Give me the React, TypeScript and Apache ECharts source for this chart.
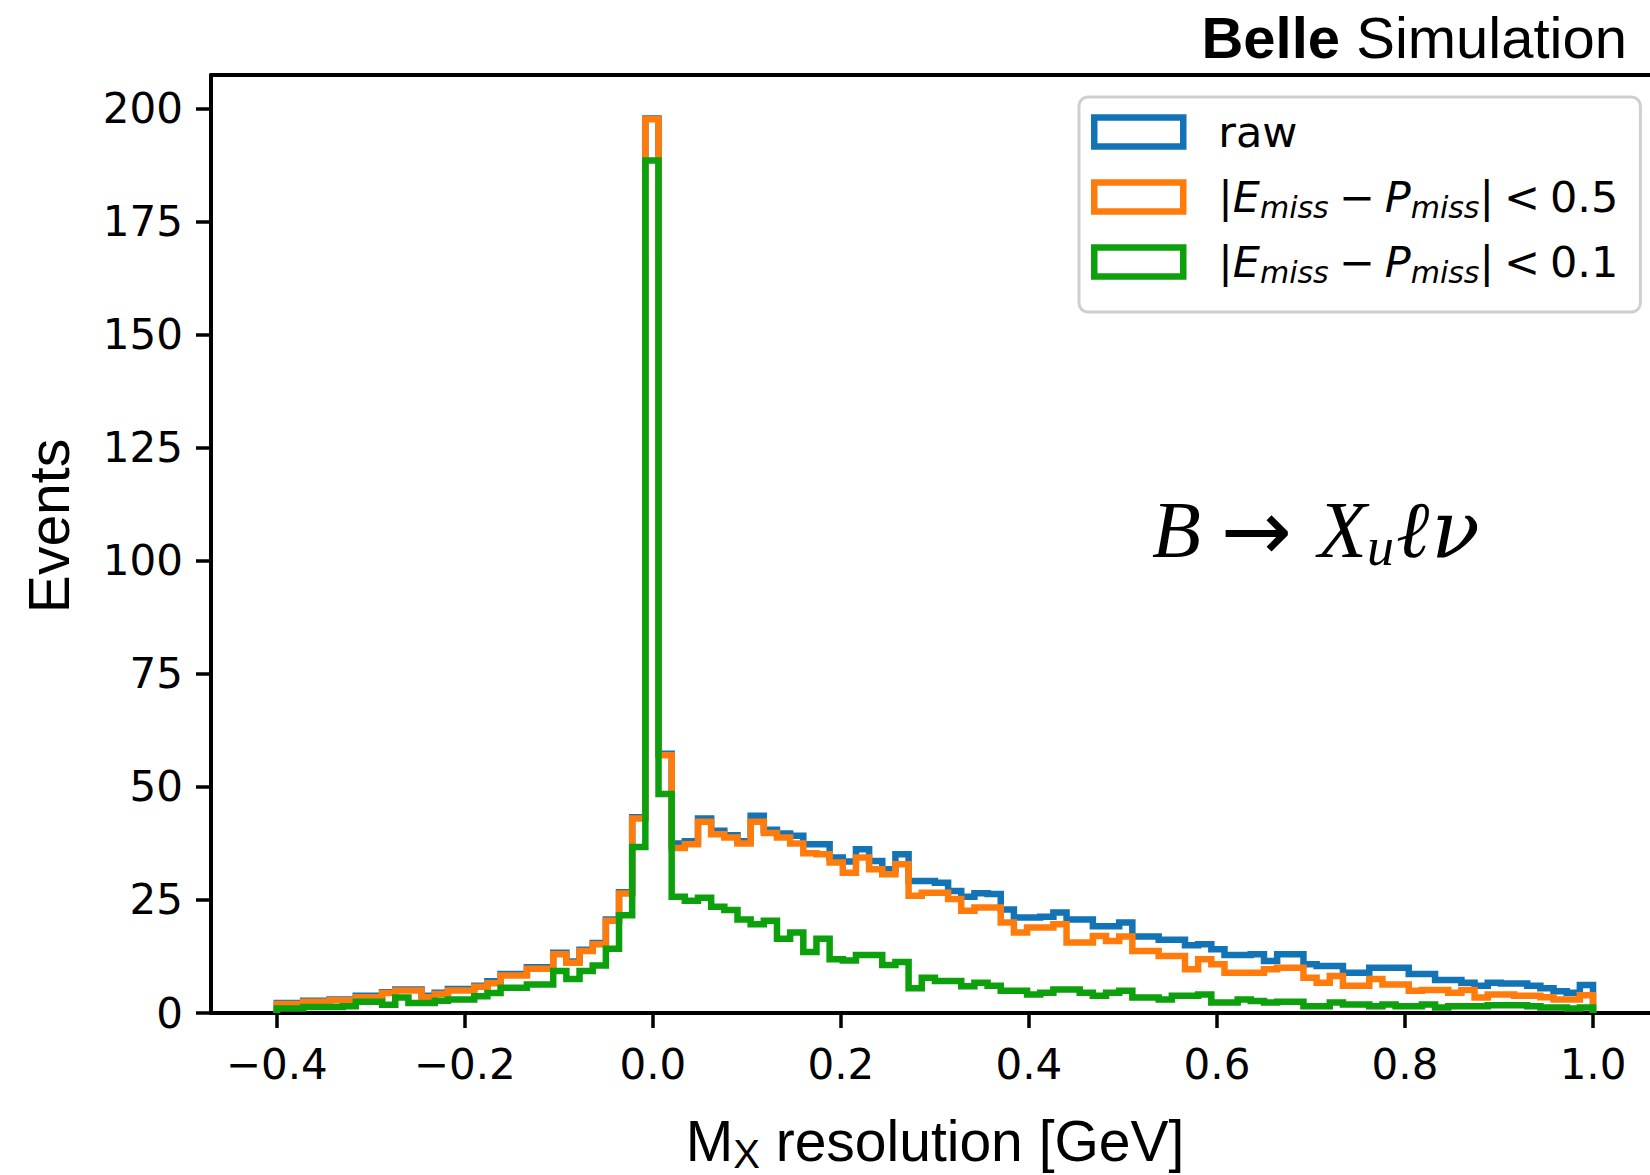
import React, { useEffect, useRef } from "react";
import * as echarts from "echarts";

// Histogram bin edges (100 bins from -0.4 to 1.0 GeV)
const BIN_EDGES = [
  -0.4, -0.386, -0.372, -0.358, -0.344, -0.33, -0.316, -0.302, -0.288, -0.274,
  -0.26, -0.246, -0.232, -0.218, -0.204, -0.19, -0.176, -0.162, -0.148, -0.134,
  -0.12, -0.106, -0.092, -0.078, -0.064, -0.05, -0.036, -0.022, -0.008, 0.006,
  0.02, 0.034, 0.048, 0.062, 0.076, 0.09, 0.104, 0.118, 0.132, 0.146,
  0.16, 0.174, 0.188, 0.202, 0.216, 0.23, 0.244, 0.258, 0.272, 0.286,
  0.3, 0.314, 0.328, 0.342, 0.356, 0.37, 0.384, 0.398, 0.412, 0.426,
  0.44, 0.454, 0.468, 0.482, 0.496, 0.51, 0.524, 0.538, 0.552, 0.566,
  0.58, 0.594, 0.608, 0.622, 0.636, 0.65, 0.664, 0.678, 0.692, 0.706,
  0.72, 0.734, 0.748, 0.762, 0.776, 0.79, 0.804, 0.818, 0.832, 0.846,
  0.86, 0.874, 0.888, 0.902, 0.916, 0.93, 0.944, 0.958, 0.972, 0.986,
  1.0,
];

// raw
const RAW = [
  2.2, 2.2, 2.7, 2.7, 3.0, 3.0, 3.8, 3.8, 4.6, 5.2,
  5.2, 3.8, 4.5, 5.3, 5.3, 6.0, 7.0, 8.6, 8.6, 10.1,
  10.1, 13.3, 11.4, 14.0, 15.5, 20.7, 26.7, 43.3, 197.8, 57.3,
  37.5, 38.0, 43.0, 40.3, 39.3, 38.0, 43.6, 40.5, 39.7, 39.2,
  37.3, 37.3, 34.4, 33.5, 36.2, 33.6, 31.8, 35.1, 29.2, 29.2,
  28.8, 27.0, 25.7, 26.5, 26.3, 22.9, 21.1, 21.1, 21.3, 22.2,
  20.7, 20.7, 19.2, 19.2, 20.0, 16.9, 16.9, 16.2, 16.2, 15.0,
  15.2, 14.1, 12.8, 12.8, 13.0, 11.5, 13.0, 13.0, 10.8, 10.4,
  10.4, 8.9, 8.9, 10.0, 10.0, 10.0, 8.6, 8.6, 7.3, 7.3,
  6.7, 6.0, 6.7, 6.5, 6.5, 6.0, 5.5, 4.8, 4.5, 6.2,
];

// |E_miss - P_miss| < 0.5
const CUT_05 = [
  2.0, 2.0, 2.5, 2.5, 2.8, 2.8, 3.5, 3.5, 4.4, 5.0,
  5.0, 3.5, 4.2, 5.0, 5.0, 5.8, 6.6, 8.3, 8.3, 9.8,
  9.8, 13.0, 11.1, 13.7, 15.2, 20.4, 26.4, 43.0, 197.6, 57.0,
  36.5, 37.3, 42.3, 39.5, 38.8, 37.5, 42.3, 39.8, 38.8, 37.5,
  35.3, 35.1, 33.3, 31.0, 34.4, 31.8, 30.7, 32.9, 25.9, 26.6,
  26.6, 25.2, 22.6, 23.3, 23.3, 20.0, 17.8, 18.9, 18.9, 19.6,
  15.6, 15.6, 17.0, 15.9, 16.9, 13.7, 13.7, 12.6, 12.6, 9.7,
  11.9, 10.8, 8.9, 8.9, 8.9, 9.7, 10.0, 10.0, 7.8, 6.7,
  8.2, 6.0, 6.0, 7.5, 6.3, 6.3, 4.9, 5.1, 5.1, 4.5,
  5.1, 3.4, 4.1, 4.1, 3.8, 3.8, 3.5, 3.0, 3.0, 3.9,
];

// |E_miss - P_miss| < 0.1
const CUT_01 = [
  1.0, 1.0, 1.3, 1.3, 1.3, 1.5, 2.5, 2.5, 1.8, 3.4,
  2.2, 2.2, 2.7, 3.0, 3.0, 3.7, 4.4, 5.6, 5.6, 6.3,
  6.3, 9.3, 7.5, 9.3, 10.5, 14.2, 21.6, 36.7, 188.5, 48.4,
  25.7, 24.8, 25.5, 23.5, 22.8, 20.7, 19.6, 20.4, 16.4, 17.8,
  13.5, 16.4, 11.9, 11.6, 12.8, 12.8, 10.6, 11.3, 5.5, 7.8,
  7.1, 7.1, 5.9, 6.7, 6.0, 4.9, 4.9, 4.1, 4.5, 5.2,
  5.2, 4.5, 3.8, 4.5, 4.9, 3.4, 3.4, 3.0, 3.8, 3.8,
  4.1, 2.3, 2.3, 3.0, 2.65, 2.3, 2.5, 2.5, 1.5, 1.5,
  2.3, 1.9, 1.9, 1.5, 1.9, 1.5, 1.5, 1.9, 1.2, 1.5,
  1.5, 1.5, 1.7, 1.7, 1.7, 1.5, 1.2, 1.2, 1.0, 1.2,
];

const X_TICKS = [-0.4, -0.2, 0.0, 0.2, 0.4, 0.6, 0.8, 1.0];
const Y_TICKS = [0, 25, 50, 75, 100, 125, 150, 175, 200];
const SERIES_NAMES = ["raw", "|E_miss − P_miss| < 0.5", "|E_miss − P_miss| < 0.1"];
const COLORS = ["#1273b6", "#ff7c0c", "#0ca00c"];

function stepPoints(values: number[]) {
  const n = values.length;
  const pts: number[][] = [[BIN_EDGES[0], 0]];
  values.forEach((v, i) => pts.push([BIN_EDGES[i], v]));
  pts.push([BIN_EDGES[n], values[n - 1]]);
  pts.push([BIN_EDGES[n], 0]);
  return pts;
}

const X_MIN = -0.47;
const X_MAX = 1.0606;
const Y_MAX = 207.4;

export default function App() {
  const ref = useRef<HTMLDivElement>(null);
  useEffect(() => {
    if (!ref.current) return;
    const chart = echarts.init(ref.current, undefined, { renderer: "svg" });
    const tickFont = "DejaVu Sans";
    const sansFont = "Liberation Sans";
    const legendRich = {
      g: { width: 30, fontSize: 43, lineHeight: 50, fontFamily: tickFont },
      n: { fontSize: 43, lineHeight: 50, fontFamily: tickFont, color: "#000" },
      o: { fontSize: 43, lineHeight: 50, fontFamily: tickFont, color: "#000", padding: [0, 10, 0, 10] },
      i: { fontSize: 43, lineHeight: 50, fontFamily: tickFont, fontStyle: "italic", color: "#000" },
      s: { fontSize: 30, lineHeight: 25, fontFamily: tickFont, fontStyle: "italic", color: "#000", verticalAlign: "bottom" },
    };
    const data = [RAW, CUT_05, CUT_01];
    const option: any = {
      animation: false,
      backgroundColor: "#ffffff",
      grid: { left: 211, right: 0, top: 75, bottom: 162, containLabel: false, outerBoundsMode: "none" },
      xAxis: [
        {
          type: "value",
          position: "bottom",
          min: X_MIN,
          max: X_MAX,
          axisLine: { show: true, onZero: false, lineStyle: { color: "#000", width: 4 } },
          axisTick: { show: true, inside: false, length: 15, lineStyle: { color: "#000", width: 3.5 }, customValues: X_TICKS },
          axisLabel: {
            show: true,
            customValues: X_TICKS,
            margin: 30,
            fontSize: 42,
            fontFamily: tickFont,
            color: "#000",
            formatter: (v: number) => (v < 0 ? "\u2212" : "") + Math.abs(v).toFixed(1),
          },
          splitLine: { show: false },
        },
        {
          type: "value",
          position: "top",
          min: X_MIN,
          max: X_MAX,
          axisLine: { show: true, onZero: false, lineStyle: { color: "#000", width: 4 } },
          axisTick: { show: false },
          axisLabel: { show: false },
          splitLine: { show: false },
        },
      ],
      yAxis: {
        type: "value",
        min: 0,
        max: Y_MAX,
        axisLine: { show: true, onZero: false, lineStyle: { color: "#000", width: 4 } },
        axisTick: { show: true, inside: false, length: 15, lineStyle: { color: "#000", width: 3.5 }, customValues: Y_TICKS },
        axisLabel: {
          show: true,
          customValues: Y_TICKS,
          margin: 28,
          fontSize: 42,
          fontFamily: tickFont,
          color: "#000",
        },
        splitLine: { show: false },
      },
      legend: {
        show: true,
        orient: "vertical",
        left: 1079,
        top: 97,
        padding: [10, 22, 25, 12],
        itemGap: 15,
        itemWidth: 89,
        itemHeight: 29,
        backgroundColor: "#ffffff",
        borderColor: "#cfcfcf",
        borderWidth: 3,
        borderRadius: 9,
        selectedMode: false,
        data: SERIES_NAMES.map((name, i) => ({
          name,
          icon: "rect",
          itemStyle: { color: "#ffffff", borderColor: COLORS[i], borderWidth: 6.5 },
        })),
        formatter: (name: string) => {
          if (name === "raw") return "{g| }{n|raw}";
          const cut = name.endsWith("0.5") ? "0.5" : "0.1";
          return "{g| }{n||}{i|E}{s|miss}{o|\u2212}{i|P}{s|miss}{n||}{o|<}{n|" + cut + "}";
        },
        textStyle: { fontSize: 43, lineHeight: 50, fontFamily: tickFont, color: "#000", rich: legendRich },
      },
      series: SERIES_NAMES.map((name, i) => ({
        name,
        type: "line",
        step: "end",
        data: stepPoints(data[i]),
        showSymbol: false,
        symbol: "none",
        clip: true,
        color: COLORS[i],
        lineStyle: { color: COLORS[i], width: 6.5, join: "miter", cap: "butt" },
        z: 2 + i,
      })),
      graphic: [
        {
          type: "text",
          x: 1627,
          y: 37,
          style: {
            text: "{b|Belle}{r| Simulation}",
            align: "right",
            verticalAlign: "middle",
            rich: {
              b: { fontFamily: sansFont, fontWeight: "bold", fontSize: 58, color: "#000", lineHeight: 66 },
              r: { fontFamily: sansFont, fontSize: 58, color: "#000", lineHeight: 66 },
            },
          },
        },
        {
          type: "text",
          x: 49,
          y: 526,
          rotation: Math.PI / 2,
          style: {
            text: "Events",
            fontFamily: sansFont,
            fontSize: 57,
            fill: "#000",
            align: "center",
            verticalAlign: "middle",
          },
        },
        {
          type: "text",
          x: 935,
          y: 1141,
          style: {
            text: "{m|M}{x|X}{r| resolution [GeV]}",
            align: "center",
            verticalAlign: "middle",
            rich: {
              m: { fontFamily: sansFont, fontSize: 57, lineHeight: 66, color: "#000" },
              x: { fontFamily: sansFont, fontSize: 40, lineHeight: 48, color: "#000", verticalAlign: "bottom" },
              r: { fontFamily: sansFont, fontSize: 57, lineHeight: 66, color: "#000" },
            },
          },
        },
        {
          type: "text",
          x: 1152,
          y: 530,
          style: {
            text: "{i|B}{a|\u2192}{i|X}{s|u}{l|\u2113}{v|\u03BD}",
            align: "left",
            verticalAlign: "middle",
            rich: {
              i: { fontFamily: "Liberation Serif", fontStyle: "italic", fontSize: 80, lineHeight: 88, color: "#000" },
              a: { fontFamily: "DejaVu Sans", fontSize: 85, lineHeight: 88, color: "#000", padding: [0, 26, 0, 20] },
              s: { fontFamily: "Liberation Serif", fontStyle: "italic", fontSize: 54, lineHeight: 30, color: "#000", verticalAlign: "bottom" },
              l: { fontFamily: "Liberation Serif", fontStyle: "italic", fontSize: 80, lineHeight: 88, color: "#000", padding: [0, 2, 0, 2] },
              v: { fontFamily: "DejaVu Serif", fontStyle: "italic", fontSize: 80, lineHeight: 88, color: "#000" },
            },
          },
        },
      ],
    };
    chart.setOption(option);
    return () => chart.dispose();
  }, []);
  return (
    <div
      ref={ref}
      style={{ position: "fixed", left: 0, top: 0, width: 1650, height: 1175, background: "#fff" }}
    />
  );
}
